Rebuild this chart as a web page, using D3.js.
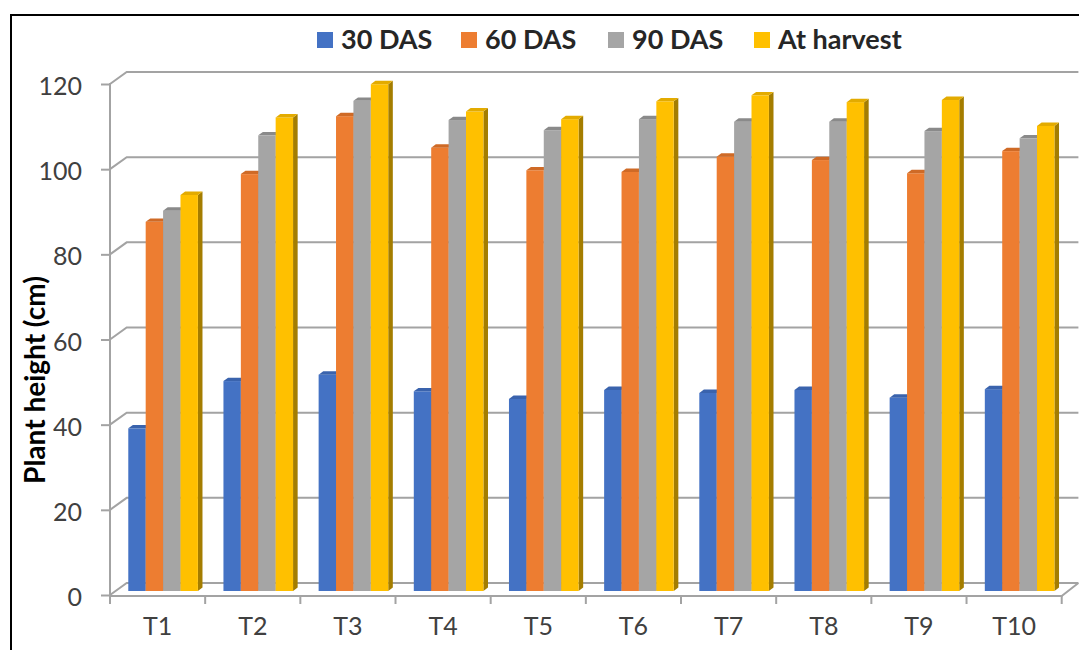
<!DOCTYPE html>
<html>
<head>
<meta charset="utf-8">
<script src="https://cdn.jsdelivr.net/npm/d3@7"></script>
<style>
  html, body { margin: 0; padding: 0; background: #fff; }
  svg { display: block; }
</style>
</head>
<body>
<svg id="chart" width="1079" height="650"></svg>
<script>
// Plant height (cm) at each growth stage for treatments T1–T10
const categories = ["T1", "T2", "T3", "T4", "T5", "T6", "T7", "T8", "T9", "T10"];
const seriesNames = ["30 DAS", "60 DAS", "90 DAS", "At harvest"];
const das30   = [38.2, 49.3, 50.8, 46.9, 45.1, 47.2, 46.5, 47.2, 45.4, 47.4];
const das60   = [86.7, 97.9, 111.5, 104.1, 98.8, 98.4, 102.0, 101.2, 98.1, 103.3];
const das90   = [89.3, 107.0, 115.1, 110.6, 108.2, 110.8, 110.2, 110.2, 108.0, 106.3];
const harvest = [93.0, 111.2, 119.0, 112.6, 110.8, 115.0, 116.4, 114.8, 115.3, 109.2];
const yTicks  = [0, 20, 40, 60, 80, 100, 120];

const seriesValues = [das30, das60, das90, harvest];
const faceColors = [
  { front: "#4472C4", top: "#3a63ad", side: "#2f528f" },
  { front: "#ED7D31", top: "#cf6a26", side: "#ad5a21" },
  { front: "#A5A5A5", top: "#8a8a8a", side: "#7a7a7a" },
  { front: "#FFC000", top: "#e3ab00", side: "#a47d00" }
];

const svg = d3.select("#chart");
const font = "Lato, 'Open Sans', sans-serif";

// outer frame
svg.append("rect")
  .attr("x", 11).attr("y", 15)
  .attr("width", 1100).attr("height", 700)
  .attr("fill", "#fff").attr("stroke", "#000").attr("stroke-width", 2);

// oblique 3D projection: front plane scales plus a depth vector
const x = d3.scaleBand().domain(categories).range([110, 1061.7]).paddingInner(0).paddingOuter(0);
const y = d3.scaleLinear().domain([0, 120]).range([595, 84]);
const depth = { dx: 16.7, dy: -12 };
const barDepthStart = { dx: 5.5, dy: -4 };
const barDepth = { dx: 4.6, dy: -3.4 };
const groupWidth = 69.6;
const xs = d3.scaleBand().domain(seriesNames).range([0, groupWidth]);

const gridColor = "#a3a3a3";
const backRight = x.range()[1] + depth.dx;

// back wall gridlines with the short slant on the side wall
const gridLine = d3.line();
svg.append("g").selectAll("path")
  .data(yTicks)
  .join("path")
  .attr("d", v => gridLine([
    [x.range()[0], y(v)],
    [x.range()[0] + depth.dx, y(v) + depth.dy],
    [backRight, y(v) + depth.dy]
  ]))
  .attr("fill", "none").attr("stroke", gridColor).attr("stroke-width", 2);

// floor front edge and right edge
svg.append("path")
  .attr("d", gridLine([
    [x.range()[0], y(0) + 1],
    [x.range()[1], y(0) + 1],
    [backRight, y(0) + depth.dy]
  ]))
  .attr("fill", "none").attr("stroke", gridColor).attr("stroke-width", 2);

// category boundary ticks below the floor
svg.append("g").selectAll("line")
  .data(d3.range(categories.length + 1))
  .join("line")
  .attr("x1", i => x.range()[0] + i * x.bandwidth())
  .attr("x2", i => x.range()[0] + i * x.bandwidth())
  .attr("y1", y(0) + 1).attr("y2", y(0) + 9)
  .attr("stroke", gridColor).attr("stroke-width", 2);

// value axis on the front plane
const yAxis = svg.append("g")
  .attr("transform", `translate(${x.range()[0]},0)`)
  .call(d3.axisLeft(y).tickValues(yTicks).tickSize(9).tickPadding(19).tickSizeOuter(0));
yAxis.select(".domain").remove();
yAxis.selectAll(".tick line").attr("stroke", gridColor).attr("stroke-width", 2);
yAxis.selectAll(".tick text")
  .attr("font-family", font).attr("font-size", 25).attr("fill", "#404040")
  .attr("dy", "0.42em");
svg.append("line")
  .attr("x1", x.range()[0]).attr("x2", x.range()[0])
  .attr("y1", y(120) - 1).attr("y2", y(0) + 9)
  .attr("stroke", gridColor).attr("stroke-width", 2);

// bars: front, side and top faces, drawn left to right
const bars = svg.append("g");
categories.forEach((c, ci) => {
  const gx = x(c) + barDepthStart.dx + (x.bandwidth() - groupWidth) / 2;
  seriesNames.forEach((s, si) => {
    const v = seriesValues[si][ci];
    const x0 = gx + xs(s);
    const w = xs.bandwidth();
    const yt = y(v) + barDepthStart.dy;
    const yb = y(0) + barDepthStart.dy;
    const col = faceColors[si];
    const g = bars.append("g");
    g.append("path")
      .attr("d", d3.line()([[x0 + w, yt], [x0 + w + barDepth.dx, yt + barDepth.dy],
                            [x0 + w + barDepth.dx, yb + barDepth.dy], [x0 + w, yb]]) + "Z")
      .attr("fill", col.side);
    g.append("rect")
      .attr("x", x0).attr("y", yt)
      .attr("width", w).attr("height", yb - yt)
      .attr("fill", col.front);
    g.append("path")
      .attr("d", d3.line()([[x0, yt], [x0 + w, yt], [x0 + w + barDepth.dx, yt + barDepth.dy],
                            [x0 + barDepth.dx, yt + barDepth.dy]]) + "Z")
      .attr("fill", col.top);
  });
});

// category labels
const xAxis = svg.append("g")
  .attr("transform", `translate(0,${y(0)})`)
  .call(d3.axisBottom(x).tickSize(0).tickPadding(22));
xAxis.select(".domain").remove();
xAxis.selectAll(".tick text")
  .attr("font-family", font).attr("font-size", 25).attr("fill", "#404040")
  .attr("dy", "0.71em");

// axis title
svg.append("text")
  .attr("transform", "translate(45,380) rotate(-90)")
  .attr("text-anchor", "middle")
  .attr("font-family", font).attr("font-weight", "bold").attr("font-size", 28)
  .attr("fill", "#000")
  .text("Plant height (cm)");

// legend
const legendX = [317, 461, 608, 754];
const legend = svg.append("g").selectAll("g")
  .data(seriesNames)
  .join("g")
  .attr("transform", (d, i) => `translate(${legendX[i]},32)`);
legend.append("rect")
  .attr("width", 16).attr("height", 16)
  .attr("fill", (d, i) => faceColors[i].front);
legend.append("text")
  .attr("x", 24).attr("y", 17)
  .attr("font-family", font).attr("font-weight", "bold").attr("font-size", 27)
  .attr("fill", "#262626")
  .text(d => d);
</script>
</body>
</html>
